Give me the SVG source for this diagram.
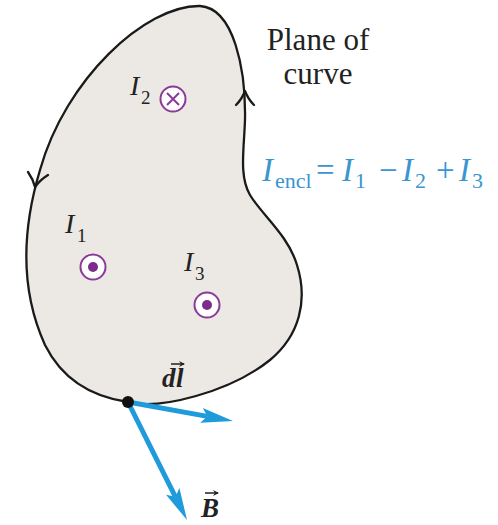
<svg xmlns="http://www.w3.org/2000/svg" width="498" height="525" viewBox="0 0 498 525">
<defs>
<style>
.curve{fill:#ece8e3;stroke:#1a1a1a;stroke-width:2.3}
.chev{fill:none;stroke:#1a1a1a;stroke-width:2.3;stroke-linecap:round;stroke-linejoin:round}
.ring{fill:#fff;stroke:#8b3a98;stroke-width:2}
.vshaft{stroke:#1f9bdc;stroke-width:5;fill:none}
.small{stroke:#222;stroke-width:1.5;fill:none}
</style>
<marker id="head" markerUnits="userSpaceOnUse" markerWidth="40" markerHeight="20" refX="0" refY="0" viewBox="-8 -10 40 20" orient="auto" overflow="visible">
<path d="M26,0 L-6,-7.5 L0,0 L-6,7.5 Z" fill="#1f9bdc"/>
</marker>
<marker id="tiny" markerUnits="userSpaceOnUse" markerWidth="8" markerHeight="8" refX="0" refY="0" viewBox="-6 -4 8 8" orient="auto" overflow="visible">
<path d="M1,0 L-5,-3 L-3,0 L-5,3 Z" fill="#222"/>
</marker>
</defs>
<rect width="498" height="525" fill="#fff"/>

<g id="curve">
<path class="curve" d="M128,402 C160,410 230,392 270,360 C300,335 308,300 297,265 C288,235 262,215 250,195 C239,176 244,150 245,120 C246,70 234,8 200,6 C145,5 65,80 40,170 C22,230 20,290 45,345 C65,385 100,398 128,402 Z"/>
<path class="chev" d="M236,105 Q242,99 245,91 Q248,99 254,105"/>
<path class="chev" d="M28,172 Q33,179 35,187 Q40,180 48,175"/>
</g>

<g id="caption">
<text x="318" y="50" font-family="Liberation Serif, serif" font-size="31" fill="#222" text-anchor="middle">Plane of</text>
<text x="318" y="84" font-family="Liberation Serif, serif" font-size="31" fill="#222" text-anchor="middle">curve</text>
</g>

<g id="equation">
<text y="181" font-family="Liberation Serif, serif" font-size="33" fill="#3a95d0"><tspan x="262" font-style="italic">I</tspan><tspan x="275" y="188" font-size="22">encl</tspan><tspan x="316" y="181">=</tspan><tspan x="342" font-style="italic">I</tspan><tspan x="355" y="188" font-size="22">1</tspan><tspan x="379" y="181">−</tspan><tspan x="402" font-style="italic">I</tspan><tspan x="415" y="188" font-size="22">2</tspan><tspan x="436" y="181">+</tspan><tspan x="459" font-style="italic">I</tspan><tspan x="472" y="188" font-size="22">3</tspan></text>
</g>

<g id="I2">
<text x="130" y="95" font-family="Liberation Serif, serif" font-size="28" font-style="italic" fill="#222">I</text>
<text x="141" y="104" font-family="Liberation Serif, serif" font-size="19" fill="#222">2</text>
<circle class="ring" cx="173" cy="99" r="12.5"/>
<path d="M167,93 L179,105 M179,93 L167,105" stroke="#8b3a98" stroke-width="2" fill="none"/>
</g>

<g id="I1">
<text x="65" y="233" font-family="Liberation Serif, serif" font-size="28" font-style="italic" fill="#222">I</text>
<text x="77" y="242" font-family="Liberation Serif, serif" font-size="19" fill="#222">1</text>
<circle class="ring" cx="93" cy="267" r="12.5"/>
<circle cx="93" cy="267" r="5" fill="#7d2b8c"/>
</g>

<g id="I3">
<text x="184" y="271" font-family="Liberation Serif, serif" font-size="28" font-style="italic" fill="#222">I</text>
<text x="195" y="280" font-family="Liberation Serif, serif" font-size="19" fill="#222">3</text>
<circle class="ring" cx="207" cy="305" r="12.5"/>
<circle cx="207" cy="305" r="5" fill="#7d2b8c"/>
</g>

<g id="connectors">
<line class="vshaft" x1="128" y1="402" x2="207.4" y2="416.4" marker-end="url(#head)"/>
<line class="vshaft" x1="128" y1="402" x2="175.4" y2="496.8" marker-end="url(#head)"/>
</g>

<g id="point">
<circle cx="128" cy="402" r="6" fill="#111"/>
</g>

<g id="dl">
<text x="162" y="387" font-family="Liberation Serif, serif" font-style="italic" font-weight="bold" font-size="27" fill="#222">d</text>
<text x="176" y="387" font-family="Liberation Serif, serif" font-style="italic" font-weight="bold" font-size="27" fill="#222">l</text>
<line class="small" x1="171" y1="364" x2="184" y2="364" marker-end="url(#tiny)"/>
</g>

<g id="B">
<text x="201" y="517" font-family="Liberation Serif, serif" font-style="italic" font-weight="bold" font-size="27" fill="#222">B</text>
<line class="small" x1="205" y1="493" x2="218" y2="493" marker-end="url(#tiny)"/>
</g>
</svg>
